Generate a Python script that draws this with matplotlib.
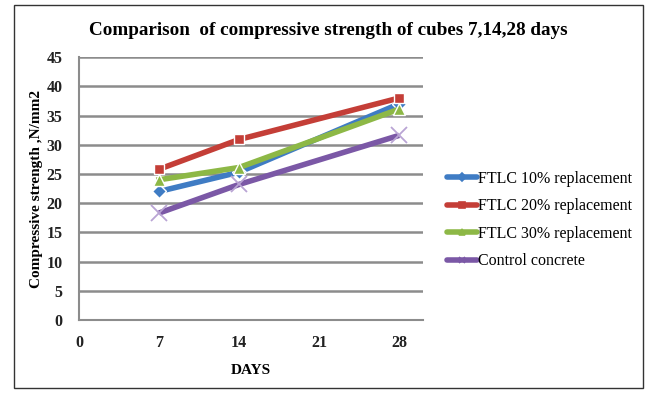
import matplotlib.pyplot as plt
from matplotlib.patches import Rectangle
from matplotlib.lines import Line2D

plt.rcParams['font.family'] = ['Liberation Serif', 'DejaVu Serif']

days = [7, 14, 28]
ftlc_10 = [22.0, 25.3, 37.0]
ftlc_20 = [25.8, 30.9, 38.0]
ftlc_30 = [24.0, 26.1, 36.1]
control = [18.3, 23.2, 31.6]

series = [
    ('FTLC 10% replacement', ftlc_10, '#3F7CC4', 'D', '#3F7CC4', 7),
    ('FTLC 20% replacement', ftlc_20, '#C43E37', 's', '#C43E37', 7),
    ('FTLC 30% replacement', ftlc_30, '#8DB846', '^', '#8DB846', 9),
    ('Control concrete', control, '#7B58A6', 'x', '#B9A4D4', 11),
]

x_ticks = [0, 7, 14, 21, 28]
y_ticks = list(range(0, 50, 5))

fig = plt.figure(figsize=(6.53, 3.94), dpi=100)

# outer border round the whole chart
fig.patches.append(Rectangle((0.021, 0.015), 0.963, 0.972, transform=fig.transFigure,
                             fill=False, edgecolor='#333333', linewidth=1.0))

ax = fig.add_axes([0.121, 0.188, 0.527, 0.667])

handles = []
for label, vals, color, marker, mcolor, msize in series:
    if marker == 'x':
        ax.plot(days, vals, color=color, linewidth=4, solid_capstyle='butt')
        ax.plot(days, vals, linestyle='none', marker='x', markersize=msize,
                markeredgecolor=mcolor, markeredgewidth=1.3)
    else:
        ax.plot(days, vals, color=color, linewidth=4, marker=marker, markersize=msize,
                markerfacecolor=mcolor, markeredgecolor='white', markeredgewidth=1.0)
    # legend key: short thick line with a small marker in the middle
    handles.append(Line2D([], [], color=color, linewidth=4, solid_capstyle='round',
                          marker=marker, markersize=4, markerfacecolor=color,
                          markeredgecolor=color, markeredgewidth=1.2, label=label))

ax.set_xlim(0, 30.1)
ax.set_ylim(0, 45)
ax.set_xticks(x_ticks)
ax.set_yticks(y_ticks)
ax.grid(axis='y', color='#8C8C8C', linewidth=1.8, zorder=0)
ax.set_axisbelow(True)

for side in ['top', 'right']:
    ax.spines[side].set_visible(False)
for side in ['left', 'bottom']:
    ax.spines[side].set_color('#8C8C8C')
    ax.spines[side].set_linewidth(1.5)

ax.tick_params(axis='y', length=0, labelsize=11.5, pad=12)
ax.tick_params(axis='x', length=0, labelsize=11.5, pad=11)
for t in ax.get_xticklabels() + ax.get_yticklabels():
    t.set_fontweight('bold')
    t.set_color('#222222')

ax.set_xlabel('DAYS', fontsize=11, fontweight='bold', labelpad=9)
ax.set_ylabel('Compressive strength ,N/mm2', fontsize=11, fontweight='bold', labelpad=2)

fig.text(0.503, 0.922, 'Comparison  of compressive strength of cubes 7,14,28 days',
         ha='center', va='center', fontsize=13.8, fontweight='bold')

leg = ax.legend(handles=handles, loc='center left', bbox_to_anchor=(1.05, 0.38),
                borderaxespad=0, frameon=False, fontsize=11.5, handlelength=1.9,
                handletextpad=0.05, labelspacing=0.72)

fig.savefig('out.png', dpi=100)
